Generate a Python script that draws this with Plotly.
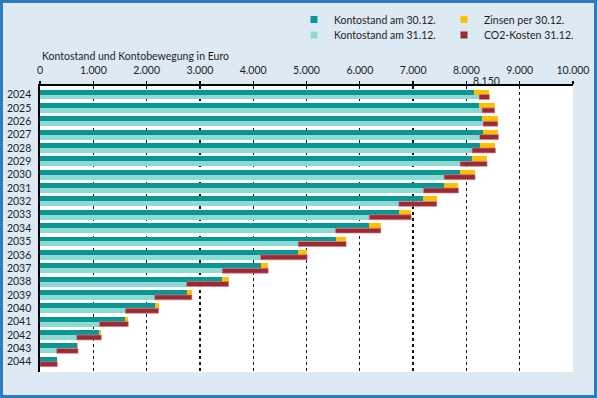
import plotly.graph_objects as go

# ---- data ----
years = [2024, 2025, 2026, 2027, 2028, 2029, 2030, 2031, 2032, 2033, 2034,
         2035, 2036, 2037, 2038, 2039, 2040, 2041, 2042, 2043, 2044]
kontostand_3012 = [8150, 8238, 8300, 8313, 8250, 8106, 7881, 7581, 7194, 6731, 6175,
                   5544, 4844, 4138, 3419, 2750, 2150, 1600, 1113, 688, 313]
zinsen_3012 = [281, 293, 288, 287, 294, 282, 282, 269, 250, 232, 219,
               200, 169, 143, 119, 100, 75, 56, 37, 25, 12]
kontostand_3112 = [8238, 8294, 8313, 8250, 8106, 7881, 7581, 7194, 6731, 6175, 5544,
                   4844, 4138, 3419, 2750, 2150, 1600, 1113, 688, 313, 0]
co2_kosten_3112 = [193, 237, 275, 350, 438, 507, 582, 656, 713, 788, 850,
                   900, 875, 862, 788, 700, 625, 543, 462, 400, 325]
x_ticks = [0, 1000, 2000, 3000, 4000, 5000, 6000, 7000, 8000, 9000, 10000]

names = ["Kontostand am 30.12.", "Zinsen per 30.12.", "Kontostand am 31.12.", "CO2-Kosten 31.12."]
colors = ["#0b9696", "#ffc000", "#8ddad5", "#9b2a33"]
legend_ids = ["legend", "legend2", "legend3", "legend4"]

FONT = "Lato"
FS = 10.5
TXT = "#1e1e1e"
pos = list(range(len(years)))
W = 0.37

fig = go.Figure()
# top row of each year: balance 30.12 + interest
fig.add_trace(go.Bar(y=pos, x=kontostand_3012, orientation="h", width=W, offset=-W,
                     marker=dict(color=colors[0], line=dict(width=0)), showlegend=False))
fig.add_trace(go.Bar(y=pos, x=zinsen_3012, base=kontostand_3012, orientation="h", width=W, offset=-W,
                     marker=dict(color=colors[1], line=dict(width=0)), showlegend=False))
# bottom row: balance 31.12 + CO2 costs
fig.add_trace(go.Bar(y=pos, x=kontostand_3112, orientation="h", width=W, offset=0,
                     marker=dict(color=colors[2], line=dict(width=0)), showlegend=False))
fig.add_trace(go.Bar(y=pos, x=co2_kosten_3112, base=kontostand_3112, orientation="h", width=W, offset=0,
                     marker=dict(color=colors[3], line=dict(color="#c98088", width=0.7)), showlegend=False))

# legend entries (small square markers), 2 x 2 grid
for n, c, lg in zip(names, colors, legend_ids):
    fig.add_trace(go.Scatter(x=[None], y=[None], mode="markers", name=n, legend=lg,
                             marker=dict(symbol="square", size=7, color=c)))

L, T, Wd, H = 40, 86, 533, 286
def px_x(px):
    return (px - L) / Wd
def px_y(py):
    return (T + H - py) / H

leg_common = dict(orientation="v", xanchor="left", yanchor="top", bgcolor="rgba(0,0,0,0)",
                  borderwidth=0, font=dict(family=FONT, size=FS, color=TXT), itemwidth=30)
leg_x = [294, 444, 294, 444]
leg_y = [5, 5, 20.5, 20.5]

fig.update_layout(
    width=597, height=398,
    margin=dict(l=L, r=597 - L - Wd, t=T, b=398 - T - H, pad=0, autoexpand=False),
    paper_bgcolor="#dde9f3", plot_bgcolor="#ffffff",
    barmode="overlay", bargap=0,
    separators=",.",
    font=dict(family=FONT, size=FS, color=TXT),
    showlegend=True,
    xaxis=dict(side="top", range=[0, 10000], tickvals=x_ticks, tickformat=",",
               showgrid=True, gridcolor="#111111", gridwidth=1.3, griddash="dot",
               showline=True, linecolor="#000000", linewidth=1.6,
               ticks="outside", ticklen=3, tickcolor="#000000", tickwidth=1.3,
               zeroline=False, ticklabelstandoff=3, automargin=False,
               tickfont=dict(family=FONT, size=FS, color=TXT), fixedrange=True),
    yaxis=dict(range=[20.77, -0.64], tickvals=pos, ticktext=[str(y) for y in years],
               showgrid=False, zeroline=False, showline=True, linecolor="#000000", linewidth=1.6,
               ticks="", ticklabelstandoff=5, automargin=False,
               tickfont=dict(family=FONT, size=FS, color=TXT), fixedrange=True),
    annotations=[
        dict(text="Kontostand und Kontobewegung in Euro", xref="paper", yref="paper",
             x=px_x(40), y=px_y(55.7), xanchor="left", yanchor="middle", showarrow=False,
             font=dict(family=FONT, size=FS, color=TXT)),
        dict(text=f"{kontostand_3012[0]:,}".replace(",", "."), xref="x", yref="paper",
             x=kontostand_3012[0], y=px_y(81), xanchor="left", yanchor="middle", xshift=-3,
             showarrow=False, font=dict(family=FONT, size=FS, color=TXT)),
    ],
    shapes=[dict(type="rect", xref="paper", yref="paper",
                 x0=px_x(1.5), x1=px_x(595.5), y0=px_y(396.5), y1=px_y(1.5),
                 line=dict(color="#2f7bbf", width=3), fillcolor="rgba(0,0,0,0)", layer="above")],
)
for lg, lx, ly in zip(legend_ids, leg_x, leg_y):
    fig.update_layout({lg: dict(x=px_x(lx), y=px_y(ly), **leg_common)})

fig.write_html("out.html",
               config={"displayModeBar": False, "staticPlot": True},
               post_script="document.body.style.margin='0';document.body.style.padding='0';"
                           "document.body.style.overflow='hidden';")
